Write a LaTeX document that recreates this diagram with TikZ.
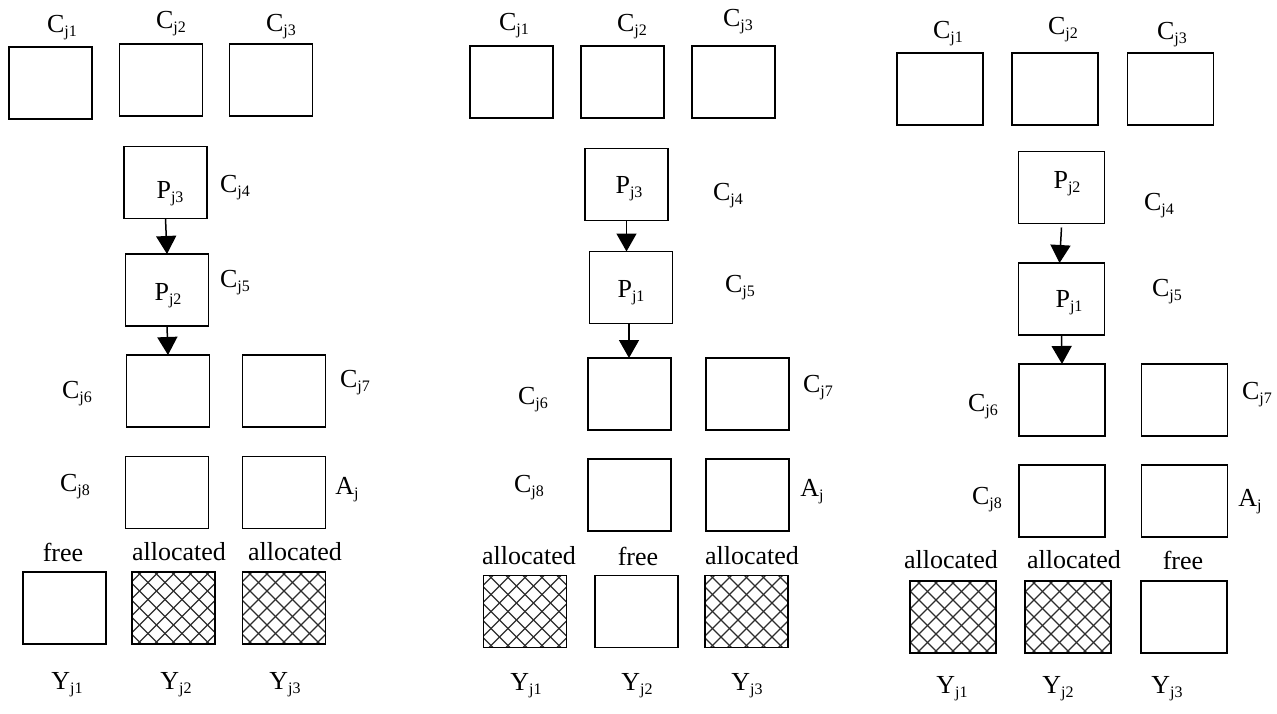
\documentclass[tikz,border=0pt]{standalone}
\usepackage{fontspec}
\setmainfont{Liberation Serif}
\usetikzlibrary{arrows.meta}
\newcommand\sbs[1]{\raisebox{-4pt}{\fontsize{16}{16}\selectfont #1}}
\definecolor{hatchc}{RGB}{45,45,45}
\tikzset{
  box/.style={draw, line width=1.5pt, minimum width=83pt, minimum height=72pt, inner sep=0pt, outer sep=0pt},
  wbox/.style={box, minimum width=86pt},
  lbl/.style={inner sep=0pt, font=\fontsize{26}{30}\selectfont},
  arr/.style={line width=1.5pt, -{Triangle[width=20pt,length=18pt]}},
  hatch/.style={path picture={
    \foreach \k in {-9,...,9}{
      \draw[hatchc, line width=1.2pt] ([xshift=\k*17pt-70pt, yshift=-70pt]path picture bounding box.center) -- ++(140pt,140pt);
      \draw[hatchc, line width=1.2pt] ([xshift=\k*17pt-70pt, yshift=70pt]path picture bounding box.center) -- ++(140pt,-140pt);
    }}}
}
\begin{document}
\begin{tikzpicture}[x=1pt,y=-1pt]
\useasboundingbox (0,0) rectangle (1277,713);
% ---------- panel 1 ----------
\node[box] (c1a) at (50.5,83) {};
\node[box] (c1b) at (161,80) {};
\node[box] (c1c) at (271,80) {};
\node[box] (p1a) at (165.5,182.5) {};
\node[box] (p1b) at (167,290) {};
\node[box] (c1f) at (168,391) {};
\node[box] (c1g) at (284,391) {};
\node[box] (c1h) at (167,492.5) {};
\node[box] (c1i) at (284,492.5) {};
\node[box] (y1a) at (64.5,608) {};
\node[box,hatch] (y1b) at (173.5,608) {};
\node[box,hatch] (y1c) at (284,608) {};
\draw[arr] (p1a.south) -- (p1b.north);
\draw[arr] (p1b.south) -- (c1f.north);
\node[lbl] (l1a) at (62,28) {C\sbs{j1}};
\node[lbl] (l1b) at (171,24) {C\sbs{j2}};
\node[lbl] (l1c) at (281,27) {C\sbs{j3}};
\node[lbl] (t1a) at (170,194) {P\sbs{j3}};
\node[lbl] (l1d) at (235,188) {C\sbs{j4}};
\node[lbl] (t1b) at (168,296) {P\sbs{j2}};
\node[lbl] (l1e) at (235,283) {C\sbs{j5}};
\node[lbl] (l1f) at (77,394) {C\sbs{j6}};
\node[lbl] (l1g) at (355,383) {C\sbs{j7}};
\node[lbl] (l1h) at (75,487) {C\sbs{j8}};
\node[lbl] (l1i) at (347,490) {A\sbs{j}};
\node[lbl] (s1a) at (63,552) {free};
\node[lbl] (s1b) at (179,552) {allocated};
\node[lbl] (s1c) at (295,552) {allocated};
\node[lbl] (v1a) at (67,685) {Y\sbs{j1}};
\node[lbl] (v1b) at (176,685) {Y\sbs{j2}};
\node[lbl] (v1c) at (285,685) {Y\sbs{j3}};
% ---------- panel 2 ----------
\node[box] (c2a) at (511.5,82) {};
\node[box] (c2b) at (622.5,82) {};
\node[box] (c2c) at (733.5,82) {};
\node[box] (p2a) at (626.5,184.5) {};
\node[box] (p2b) at (631,287.5) {};
\node[box] (c2f) at (629.5,394) {};
\node[box] (c2g) at (747.5,394) {};
\node[box] (c2h) at (629.5,495) {};
\node[box] (c2i) at (747.5,495) {};
\node[box,hatch] (y2a) at (525,611.5) {};
\node[box] (y2b) at (636.5,611.5) {};
\node[box,hatch] (y2c) at (746.5,611.5) {};
\draw[arr] (p2a.south) -- (p2a.south |- p2b.north);
\draw[arr] ([xshift=-2pt]p2b.south) -- ([xshift=-2pt]p2b.south |- c2f.north);
\node[lbl] (l2a) at (514,26) {C\sbs{j1}};
\node[lbl] (l2b) at (632,27) {C\sbs{j2}};
\node[lbl] (l2c) at (738,22) {C\sbs{j3}};
\node[lbl] (t2a) at (629,189) {P\sbs{j3}};
\node[lbl] (l2d) at (728,196) {C\sbs{j4}};
\node[lbl] (t2b) at (631,293) {P\sbs{j1}};
\node[lbl] (l2e) at (740,288) {C\sbs{j5}};
\node[lbl] (l2f) at (533,400) {C\sbs{j6}};
\node[lbl] (l2g) at (818,388) {C\sbs{j7}};
\node[lbl] (l2h) at (529,488) {C\sbs{j8}};
\node[lbl] (l2i) at (812,492) {A\sbs{j}};
\node[lbl] (s2a) at (529,556) {allocated};
\node[lbl] (s2b) at (638,556) {free};
\node[lbl] (s2c) at (752,556) {allocated};
\node[lbl] (v2a) at (526,686) {Y\sbs{j1}};
\node[lbl] (v2b) at (637,686) {Y\sbs{j2}};
\node[lbl] (v2c) at (747,686) {Y\sbs{j3}};
% ---------- panel 3 ----------
\node[wbox] (c3a) at (940,89) {};
\node[wbox] (c3b) at (1055,89) {};
\node[wbox] (c3c) at (1170.5,89) {};
\node[wbox] (p3a) at (1061.5,187.5) {};
\node[wbox] (p3b) at (1061.5,299) {};
\node[wbox] (c3f) at (1062,400) {};
\node[wbox] (c3g) at (1184.5,400) {};
\node[wbox] (c3h) at (1062,501) {};
\node[wbox] (c3i) at (1184.5,501) {};
\node[wbox,hatch] (y3a) at (953,617) {};
\node[wbox,hatch] (y3b) at (1068,617) {};
\node[wbox] (y3c) at (1184,617) {};
\draw[arr] ([yshift=-4pt]p3a.south) -- ([xshift=-2pt]p3b.north);
\draw[arr] (p3b.south) -- (c3f.north);
\node[lbl] (l3a) at (948,34) {C\sbs{j1}};
\node[lbl] (l3b) at (1063,30) {C\sbs{j2}};
\node[lbl] (l3c) at (1172,35) {C\sbs{j3}};
\node[lbl] (t3a) at (1067,184) {P\sbs{j2}};
\node[lbl] (l3d) at (1159,206) {C\sbs{j4}};
\node[lbl] (t3b) at (1069,303) {P\sbs{j1}};
\node[lbl] (l3e) at (1167,292) {C\sbs{j5}};
\node[lbl] (l3f) at (983,407) {C\sbs{j6}};
\node[lbl] (l3g) at (1257,395) {C\sbs{j7}};
\node[lbl] (l3h) at (987,500) {C\sbs{j8}};
\node[lbl] (l3i) at (1250,502) {A\sbs{j}};
\node[lbl] (s3a) at (951,560) {allocated};
\node[lbl] (s3b) at (1074,560) {allocated};
\node[lbl] (s3c) at (1183,560) {free};
\node[lbl] (v3a) at (952,689) {Y\sbs{j1}};
\node[lbl] (v3b) at (1058,689) {Y\sbs{j2}};
\node[lbl] (v3c) at (1167,689) {Y\sbs{j3}};
\end{tikzpicture}
\end{document}
